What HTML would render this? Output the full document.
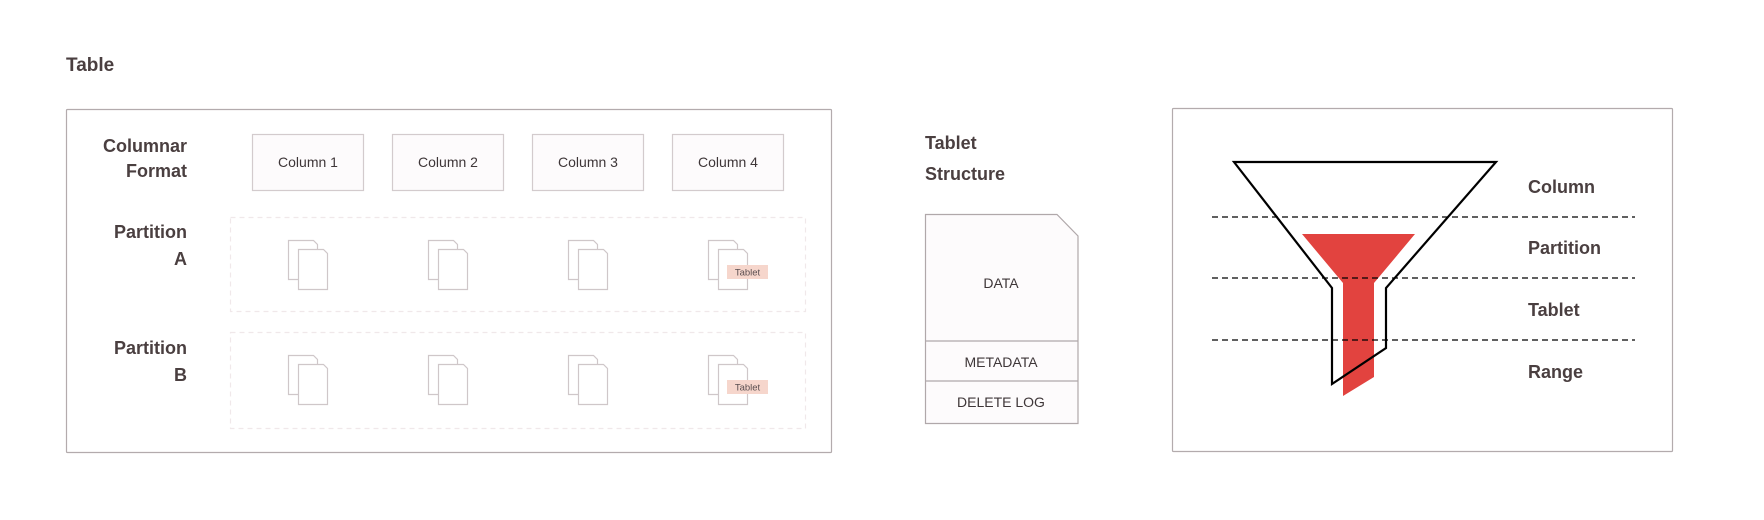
<!DOCTYPE html>
<html><head><meta charset="utf-8"><style>
html,body{margin:0;padding:0;background:#fff;}
svg{display:block;}
text{font-family:"Liberation Sans",sans-serif;}
.h{font-weight:bold;font-size:18px;fill:#4a3f40;}
.n{font-size:14px;fill:#3e3638;}
</style></head><body>
<svg width="1764" height="520" viewBox="0 0 1764 520" xmlns="http://www.w3.org/2000/svg">
<defs>
<g id="doc">
<path d="M0 0 H25 L29 4 V39 H0 Z" fill="#fff" stroke="#cfc7c9" stroke-width="1.2"/>
<path d="M10 9 H35 L39 13 V49 H10 Z" fill="#fff" stroke="#cfc7c9" stroke-width="1.2"/>
</g>
</defs>
<text x="66" y="71" class="h" style="font-size:19px">Table</text>
<rect x="66.5" y="109.5" width="765" height="343" fill="#fff" stroke="#b3abad" stroke-width="1.2" rx="1"/>
<text x="187" y="152" class="h" text-anchor="end">Columnar</text>
<text x="187" y="177" class="h" text-anchor="end">Format</text>
<g fill="#fdfbfc" stroke="#d3cbcd" stroke-width="1.2">
<rect x="252.5" y="134.5" width="111" height="56"/>
<rect x="392.5" y="134.5" width="111" height="56"/>
<rect x="532.5" y="134.5" width="111" height="56"/>
<rect x="672.5" y="134.5" width="111" height="56"/>
</g>
<g class="n" text-anchor="middle">
<text x="308" y="167" class="n">Column 1</text>
<text x="448" y="167" class="n">Column 2</text>
<text x="588" y="167" class="n">Column 3</text>
<text x="728" y="167" class="n">Column 4</text>
</g>
<g fill="none" stroke="#f0e8ea" stroke-width="1.2" stroke-dasharray="5,4">
<rect x="230.5" y="217.5" width="575" height="94"/>
<rect x="230.5" y="332.5" width="575" height="96"/>
</g>
<text x="187" y="238" class="h" text-anchor="end">Partition</text>
<text x="187" y="265" class="h" text-anchor="end">A</text>
<text x="187" y="354" class="h" text-anchor="end">Partition</text>
<text x="187" y="381" class="h" text-anchor="end">B</text>
<use href="#doc" x="288.5" y="240.5"/><use href="#doc" x="428.5" y="240.5"/><use href="#doc" x="568.5" y="240.5"/><use href="#doc" x="708.5" y="240.5"/>
<use href="#doc" x="288.5" y="355.5"/><use href="#doc" x="428.5" y="355.5"/><use href="#doc" x="568.5" y="355.5"/><use href="#doc" x="708.5" y="355.5"/>
<rect x="727" y="265" width="41" height="14" fill="#f6d6cc"/>
<text x="747.5" y="275.5" text-anchor="middle" style="font-size:9.5px;fill:#5a4e50">Tablet</text>
<rect x="727" y="380" width="41" height="14" fill="#f6d6cc"/>
<text x="747.5" y="390.5" text-anchor="middle" style="font-size:9.5px;fill:#5a4e50">Tablet</text>

<text x="925" y="149" class="h">Tablet</text>
<text x="925" y="180" class="h">Structure</text>
<path d="M925.5 214.5 H1057 L1078 236 V423.5 H925.5 Z" fill="#fdfbfc" stroke="#b0a8aa" stroke-width="1.2"/>
<line x1="925.5" y1="341" x2="1078" y2="341" stroke="#b0a8aa" stroke-width="1.2"/>
<line x1="925.5" y1="381" x2="1078" y2="381" stroke="#b0a8aa" stroke-width="1.2"/>
<text x="1001" y="288" class="n" text-anchor="middle">DATA</text>
<text x="1001" y="367" class="n" text-anchor="middle">METADATA</text>
<text x="1001" y="407" class="n" text-anchor="middle">DELETE LOG</text>

<rect x="1172.5" y="108.5" width="500" height="343" fill="#fff" stroke="#b3abad" stroke-width="1.2" rx="1"/>
<polygon points="1302,234 1415,234 1374,283 1374,377 1343,396 1343,283" fill="#e2433f"/>
<polygon points="1234,162 1496,162 1386,288 1386,348 1332,384 1332,288" fill="none" stroke="#000" stroke-width="2.2" stroke-linejoin="miter"/>
<g stroke="#000" stroke-width="1.2" stroke-dasharray="6,4">
<line x1="1212" y1="217" x2="1635" y2="217"/>
<line x1="1212" y1="278" x2="1635" y2="278"/>
<line x1="1212" y1="340" x2="1635" y2="340"/>
</g>
<text x="1528" y="193" class="h">Column</text>
<text x="1528" y="254" class="h">Partition</text>
<text x="1528" y="316" class="h">Tablet</text>
<text x="1528" y="378" class="h">Range</text>
</svg>
</body></html>
